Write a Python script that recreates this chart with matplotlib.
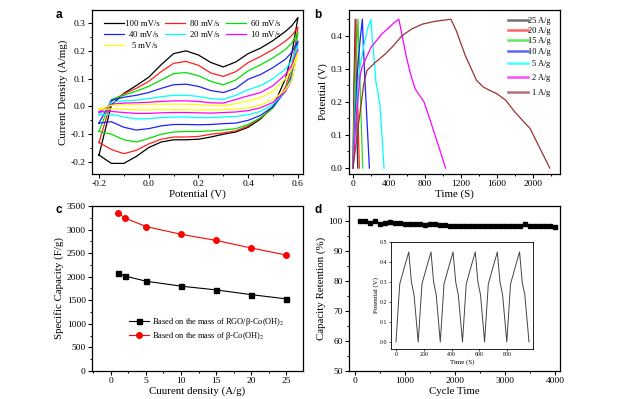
import matplotlib
matplotlib.use('Agg')
import matplotlib.pyplot as plt
from matplotlib.ticker import MultipleLocator

plt.rcParams['font.family'] = ['Liberation Serif', 'DejaVu Serif']
plt.rcParams['mathtext.fontset'] = 'stix'
plt.rcParams['axes.linewidth'] = 0.9

# ---- (a) CV curves ----
cv_x = [-0.2, -0.15, -0.1, -0.05, 0.0, 0.05, 0.1, 0.15, 0.2, 0.25, 0.3, 0.35, 0.4, 0.45, 0.5, 0.55, 0.575, 0.6]
cv_labels = ['100 mV/s', r'$\enspace$80 mV/s', r'$\enspace$60 mV/s', r'$\enspace$40 mV/s',
             r'$\enspace$20 mV/s', r'$\enspace$10 mV/s', r'$\enspace\enspace$5 mV/s']
cv_colors = ['black', '#ff2020', '#00e000', '#2020ff', '#00ffff', '#ff00ff', '#ffff00']
cv_up = [
    [-0.175, 0.005, 0.047, 0.075, 0.105, 0.15, 0.19, 0.20, 0.185, 0.158, 0.142, 0.16, 0.19, 0.21, 0.237, 0.27, 0.29, 0.32],
    [-0.13, 0.02, 0.045, 0.065, 0.09, 0.125, 0.155, 0.162, 0.148, 0.12, 0.108, 0.125, 0.158, 0.18, 0.205, 0.235, 0.255, 0.285],
    [-0.09, 0.025, 0.04, 0.055, 0.072, 0.095, 0.118, 0.122, 0.11, 0.09, 0.078, 0.095, 0.128, 0.15, 0.175, 0.205, 0.228, 0.265],
    [-0.06, 0.022, 0.033, 0.04, 0.05, 0.065, 0.078, 0.08, 0.072, 0.057, 0.05, 0.065, 0.098, 0.115, 0.14, 0.17, 0.195, 0.235],
    [-0.03, 0.015, 0.02, 0.022, 0.028, 0.035, 0.04, 0.04, 0.036, 0.028, 0.025, 0.04, 0.06, 0.075, 0.1, 0.135, 0.165, 0.22],
    [-0.02, 0.008, 0.012, 0.013, 0.015, 0.018, 0.02, 0.02, 0.018, 0.013, 0.012, 0.025, 0.038, 0.05, 0.075, 0.115, 0.148, 0.205],
    [-0.01, 0.004, 0.006, 0.007, 0.008, 0.008, 0.008, 0.008, 0.006, 0.004, 0.003, 0.01, 0.02, 0.032, 0.055, 0.1, 0.135, 0.195],
]
cv_dn = [
    [-0.175, -0.205, -0.205, -0.18, -0.148, -0.128, -0.12, -0.12, -0.118, -0.11, -0.1, -0.092, -0.075, -0.045, 0.0, 0.1, 0.19, 0.32],
    [-0.13, -0.155, -0.17, -0.158, -0.135, -0.118, -0.11, -0.11, -0.108, -0.1, -0.095, -0.088, -0.07, -0.042, -0.005, 0.07, 0.14, 0.285],
    [-0.09, -0.1, -0.12, -0.128, -0.115, -0.1, -0.092, -0.09, -0.09, -0.088, -0.085, -0.08, -0.065, -0.04, -0.005, 0.06, 0.12, 0.265],
    [-0.06, -0.055, -0.075, -0.085, -0.08, -0.07, -0.065, -0.065, -0.066, -0.065, -0.062, -0.06, -0.05, -0.032, 0.0, 0.055, 0.11, 0.235],
    [-0.03, -0.028, -0.038, -0.045, -0.044, -0.04, -0.038, -0.038, -0.04, -0.04, -0.038, -0.036, -0.03, -0.018, 0.008, 0.055, 0.1, 0.22],
    [-0.02, -0.018, -0.022, -0.025, -0.025, -0.023, -0.022, -0.022, -0.023, -0.024, -0.022, -0.02, -0.015, -0.005, 0.015, 0.055, 0.095, 0.205],
    [-0.01, -0.009, -0.01, -0.012, -0.012, -0.012, -0.012, -0.012, -0.013, -0.013, -0.012, -0.01, -0.005, 0.005, 0.025, 0.06, 0.095, 0.195],
]

# ---- (b) GCD curves ----
gcd_labels = ['25 A/g', '20 A/g', '15 A/g', '10 A/g',
              r'$\enspace$5 A/g', r'$\enspace$2 A/g', r'$\enspace$1 A/g']
gcd_colors = ['#333333', '#ff2020', '#20e020', '#2020ff', '#00ffff', '#ff00ff', '#993333']
gcd_t = [
    [0, 10, 25, 38, 52],
    [0, 14, 33, 50, 70],
    [0, 22, 55, 80, 108],
    [0, 20, 40, 60, 80, 104, 115, 130, 145, 160, 182],
    [0, 30, 60, 80, 120, 160, 200, 215, 235, 255, 275, 300, 320, 345],
    [0, 40, 80, 100, 150, 200, 260, 320, 400, 460, 510, 540, 590, 640, 690, 740, 790, 840, 900, 960, 1030],
    [0, 60, 120, 155, 250, 360, 450, 545, 650, 770, 900, 1000, 1090,
     1150, 1250, 1375, 1450, 1520, 1600, 1700, 1800, 1900, 1970, 2080, 2190],
]
gcd_v = [
    [0, 0.25, 0.45, 0.22, 0],
    [0, 0.25, 0.45, 0.22, 0],
    [0, 0.25, 0.45, 0.24, 0],
    [0, 0.13, 0.25, 0.33, 0.39, 0.45, 0.37, 0.28, 0.2, 0.12, 0.0],
    [0, 0.15, 0.27, 0.31, 0.37, 0.42, 0.45, 0.39, 0.33, 0.26, 0.23, 0.19, 0.11, 0.0],
    [0, 0.17, 0.28, 0.305, 0.335, 0.365, 0.385, 0.405, 0.425, 0.44, 0.45, 0.41, 0.34, 0.285, 0.24, 0.22, 0.2, 0.16, 0.11, 0.06, 0.0],
    [0, 0.13, 0.255, 0.295, 0.32, 0.345, 0.37, 0.40, 0.42, 0.435, 0.443, 0.447, 0.45,
     0.415, 0.34, 0.265, 0.245, 0.235, 0.225, 0.205, 0.17, 0.14, 0.12, 0.06, 0.0],
]

# ---- (c) specific capacity ----
cur_density = [1, 2, 5, 10, 15, 20, 25]
cap_composite = [2085, 2015, 1905, 1800, 1720, 1620, 1530]
cap_coh = [3355, 3245, 3065, 2900, 2770, 2610, 2460]

# ---- (d) cycling ----
cycles = [100, 200, 300, 400, 500, 600, 700, 800, 900, 1000,
          1100, 1200, 1300, 1400, 1500, 1600, 1700, 1800, 1900, 2000,
          2100, 2200, 2300, 2400, 2500, 2600, 2700, 2800, 2900, 3000,
          3100, 3200, 3300, 3400, 3500, 3600, 3700, 3800, 3900, 4000]
retention = [100.0, 99.9, 99.5, 100.0, 99.1, 99.5, 99.6, 99.5, 99.2, 99.0,
             99.0, 99.0, 99.1, 98.6, 99.0, 99.0, 98.6, 98.8, 98.5, 98.5,
             98.5, 98.5, 98.5, 98.5, 98.5, 98.5, 98.5, 98.5, 98.5, 98.5,
             98.2, 98.5, 98.5, 98.9, 98.5, 98.5, 98.5, 98.4, 98.4, 97.9]
inset_t = [0, 27, 63, 92, 111, 130, 160, 187, 223, 252, 271, 290, 319, 346, 382, 411, 430, 449,
           479, 506, 542, 571, 590, 609, 638, 665, 701, 730, 749, 768, 798, 825, 861, 890, 909, 928, 958]
inset_v = [0, 0.29, 0.38, 0.45, 0.30, 0.235, 0, 0.29, 0.38, 0.45, 0.30, 0.235, 0, 0.29, 0.38, 0.45, 0.30, 0.235,
           0, 0.29, 0.38, 0.45, 0.30, 0.235, 0, 0.29, 0.38, 0.45, 0.30, 0.235, 0, 0.29, 0.38, 0.45, 0.30, 0.235, 0]

fig = plt.figure(figsize=(6.17, 3.99), dpi=100)
ax_a = fig.add_axes([0.1491, 0.564, 0.3419, 0.411])
ax_b = fig.add_axes([0.5656, 0.564, 0.3420, 0.411])
ax_c = fig.add_axes([0.1491, 0.0702, 0.3419, 0.4135])
ax_d = fig.add_axes([0.5656, 0.0702, 0.3420, 0.4135])


def style(ax, fs=6.8):
    ax.tick_params(which='both', direction='out', top=False, right=False, labelsize=fs, pad=1.5)
    ax.tick_params(which='major', length=3, width=0.8)
    ax.tick_params(which='minor', length=1.7, width=0.7)


# (a)
for up, dn, c, lab in zip(cv_up, cv_dn, cv_colors, cv_labels):
    ax_a.plot(cv_x + cv_x[::-1], up + dn[::-1], color=c, lw=0.9, label=lab)
ax_a.set_xlim(-0.228, 0.62)
ax_a.set_ylim(-0.243, 0.347)
ax_a.xaxis.set_major_locator(MultipleLocator(0.2))
ax_a.xaxis.set_minor_locator(MultipleLocator(0.1))
ax_a.yaxis.set_major_locator(MultipleLocator(0.1))
ax_a.yaxis.set_minor_locator(MultipleLocator(0.05))
ax_a.xaxis.set_major_formatter(lambda v, p: f'{v:.1f}')
ax_a.yaxis.set_major_formatter(lambda v, p: f'{v:.1f}')
ax_a.set_xlabel('Potential (V)', fontsize=7.8, labelpad=1)
ax_a.set_ylabel('Current Density (A/mg)', fontsize=7.8, labelpad=2)
style(ax_a)
h, l = ax_a.get_legend_handles_labels()
order = [0, 3, 6, 1, 4, 2, 5]
ax_a.legend([h[i] for i in order], [l[i] for i in order], ncol=3, frameon=False,
            fontsize=6.3, loc='upper left', bbox_to_anchor=(0.03, 0.99),
            handlelength=2.2, handletextpad=0.2, columnspacing=0.6,
            labelspacing=0.15, borderpad=0.2)

# (b)
for t, v, c, lab in zip(gcd_t, gcd_v, gcd_colors, gcd_labels):
    ax_b.plot(t, v, color=c, lw=0.9, label=lab)
ax_b.set_xlim(-45, 2304)
ax_b.set_ylim(-0.018, 0.478)
ax_b.xaxis.set_major_locator(MultipleLocator(400))
ax_b.xaxis.set_minor_locator(MultipleLocator(200))
ax_b.yaxis.set_major_locator(MultipleLocator(0.1))
ax_b.yaxis.set_minor_locator(MultipleLocator(0.05))
ax_b.yaxis.set_major_formatter(lambda v, p: f'{v:.1f}')
ax_b.set_xlabel('Time (S)', fontsize=7.8, labelpad=1)
ax_b.set_ylabel('Potential (V)', fontsize=7.8, labelpad=2)
style(ax_b)
leg = ax_b.legend(frameon=False, fontsize=6.0, loc='upper right', bbox_to_anchor=(0.99, 0.995),
                  handlelength=2.3, handletextpad=0.1, labelspacing=0.28, borderpad=0.2)
for line in leg.get_lines():
    line.set_linewidth(1.8)
    line.set_alpha(0.7)

# (c)
ax_c.plot(cur_density, cap_composite, color='black', lw=0.8, marker='s', ms=3.6,
          label='Based on the mass of RGO/β-Co(OH)$_2$')
ax_c.plot(cur_density, cap_coh, color='red', lw=0.8, marker='o', ms=4.0,
          label='Based on the mass of β-Co(OH)$_2$')
ax_c.set_xlim(-2.7, 27.4)
ax_c.set_ylim(0, 3500)
ax_c.xaxis.set_major_locator(MultipleLocator(5))
ax_c.xaxis.set_minor_locator(MultipleLocator(2.5))
ax_c.yaxis.set_major_locator(MultipleLocator(500))
ax_c.yaxis.set_minor_locator(MultipleLocator(250))
ax_c.set_xlabel('Cuurent density (A/g)', fontsize=7.8, labelpad=1)
ax_c.set_ylabel('Specific Capacity (F/g)', fontsize=7.8, labelpad=2)
style(ax_c)
ax_c.legend(frameon=False, fontsize=6.0, loc='lower left', bbox_to_anchor=(0.15, 0.14),
            handlelength=2.4, handletextpad=0.3, labelspacing=0.3, borderpad=0.2)

# (d)
ax_d.plot(cycles, retention, ls='none', marker='s', ms=3.3, color='black')
ax_d.set_xlim(-119, 4100)
ax_d.set_ylim(50, 105)
ax_d.xaxis.set_major_locator(MultipleLocator(1000))
ax_d.xaxis.set_minor_locator(MultipleLocator(500))
ax_d.yaxis.set_major_locator(MultipleLocator(10))
ax_d.yaxis.set_minor_locator(MultipleLocator(5))
ax_d.set_xlabel('Cycle Time', fontsize=7.8, labelpad=1)
ax_d.set_ylabel('Capacity Retention (%)', fontsize=7.8, labelpad=2)
style(ax_d)

ax_in = fig.add_axes([0.6337, 0.1253, 0.2302, 0.2682])
ax_in.plot(inset_t, inset_v, color='#444444', lw=0.7)
ax_in.set_xlim(-36, 987)
ax_in.set_ylim(-0.035, 0.5)
ax_in.xaxis.set_major_locator(MultipleLocator(200))
ax_in.yaxis.set_major_locator(MultipleLocator(0.1))
ax_in.yaxis.set_major_formatter(lambda v, p: f'{v:.1f}')
ax_in.tick_params(direction='out', top=False, right=False, labelsize=4.2, length=1.5, width=0.5, pad=1)
for s in ax_in.spines.values():
    s.set_linewidth(0.6)
ax_in.set_xlabel('Time (S)', fontsize=5, labelpad=1)
ax_in.set_ylabel('Potential (V)', fontsize=5, labelpad=1)

for ax, letter, x, y in [(ax_a, 'a', 59, 15), (ax_b, 'b', 318, 15), (ax_c, 'c', 59, 210), (ax_d, 'd', 318, 210)]:
    fig.text(x / 617, 1 - y / 399, letter, family=['Liberation Sans', 'DejaVu Sans'],
             fontweight='bold', fontsize=8.5, ha='center', va='center')

fig.savefig('out.png', dpi=100)
